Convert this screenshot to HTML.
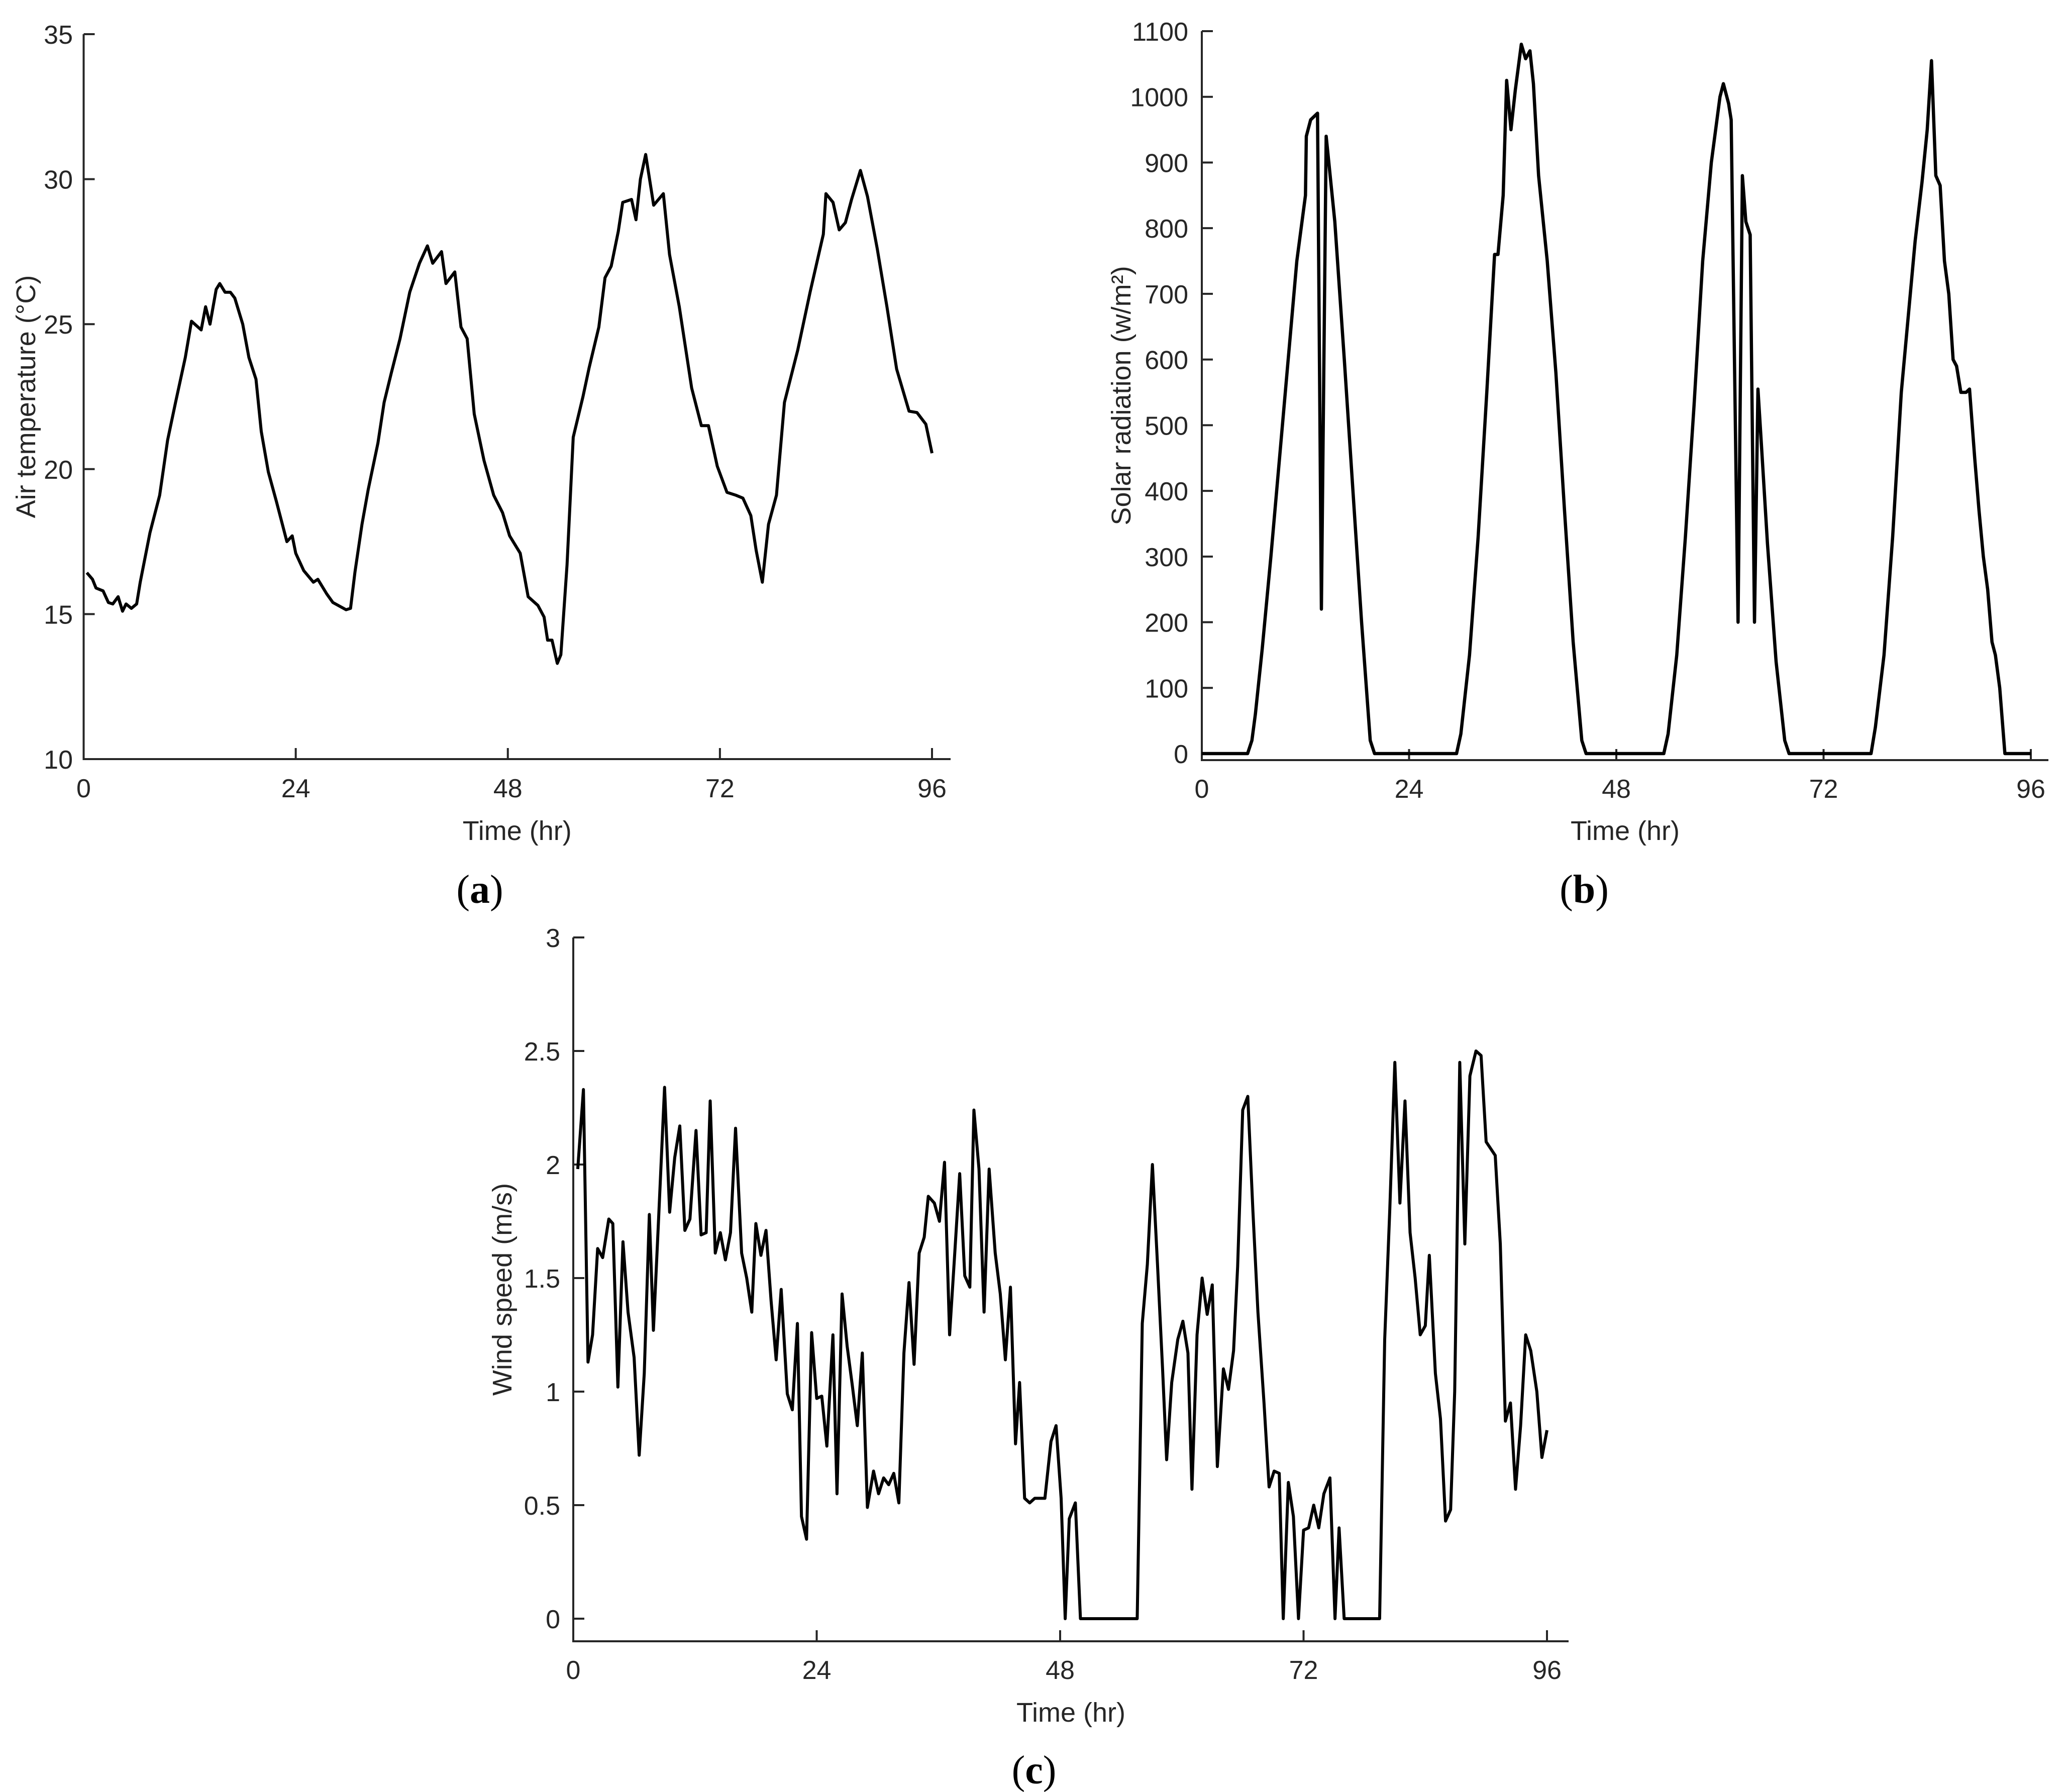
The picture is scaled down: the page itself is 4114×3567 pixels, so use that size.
<!DOCTYPE html>
<html><head><meta charset="utf-8"><style>
html,body{margin:0;padding:0;background:#fff;}
svg{display:block;font-family:"Liberation Sans",Arial,sans-serif;}
</style></head>
<body>
<svg id="fig" width="4114" height="3567" viewBox="0 0 4114 3567" xmlns="http://www.w3.org/2000/svg">
<rect width="4114" height="3567" fill="#fff"/>
<text x="955" y="1797" font-family="Liberation Serif,serif" font-size="80" text-anchor="middle">(<tspan font-weight="bold">a</tspan>)</text>
<text x="3153" y="1797" font-family="Liberation Serif,serif" font-size="80" text-anchor="middle">(<tspan font-weight="bold">b</tspan>)</text>
<text x="2058" y="3550" font-family="Liberation Serif,serif" font-size="80" text-anchor="middle">(<tspan font-weight="bold">c</tspan>)</text>
</svg>
<script>
// shared x ticks
const xTicks = [0, 24, 48, 72, 96];
// (a) air temperature
const tempTime = [0.36,1.0,1.4,2.2,2.8,3.3,3.9,4.4,4.8,5.4,6.0,6.4,7.5,8.6,9.5,10.4,11.5,12.2,13.3,13.8,14.3,15.0,15.4,16.0,16.6,17.1,18.0,18.7,19.5,20.1,20.9,21.8,23.0,23.6,24.0,24.9,26.0,26.5,27.5,28.2,29.7,30.2,30.7,31.5,32.2,33.3,34.0,34.8,35.8,36.9,38.0,38.9,39.5,40.5,41.0,42.0,42.7,43.4,44.2,45.3,46.4,47.4,48.2,49.4,50.3,51.4,52.1,52.5,53.0,53.6,54.0,54.7,55.4,56.5,57.2,58.3,59.0,59.7,60.5,61.0,62.0,62.5,63.0,63.6,64.5,65.6,66.3,67.4,68.8,69.9,70.7,71.7,72.8,73.8,74.6,75.5,76.1,76.8,77.5,78.4,79.3,80.8,82.2,83.7,84.0,84.8,85.5,86.2,86.9,87.9,88.7,89.8,90.9,92.0,93.4,94.3,95.3,96.0];
const tempValue = [16.43,16.2,15.9,15.8,15.4,15.35,15.6,15.1,15.35,15.2,15.35,16.1,17.8,19.1,21.0,22.3,23.85,25.1,24.8,25.6,25.0,26.2,26.4,26.1,26.1,25.9,25.0,23.85,23.1,21.3,19.9,18.9,17.5,17.7,17.1,16.5,16.1,16.2,15.7,15.4,15.15,15.2,16.45,18.1,19.3,20.9,22.3,23.3,24.5,26.1,27.1,27.7,27.1,27.5,26.4,26.8,24.9,24.5,21.9,20.3,19.1,18.5,17.7,17.1,15.6,15.3,14.9,14.1,14.1,13.3,13.6,16.7,21.1,22.5,23.5,24.9,26.6,27.0,28.2,29.2,29.3,28.6,30.0,30.85,29.1,29.5,27.4,25.6,22.8,21.5,21.5,20.1,19.2,19.1,19.0,18.4,17.2,16.1,18.1,19.1,22.3,24.1,26.1,28.1,29.5,29.2,28.25,28.5,29.3,30.3,29.4,27.6,25.6,23.45,22.0,21.95,21.55,20.55];
const tempTicks = [10,15,20,25,30,35];
// (b) solar radiation
const solarTime = [0,5.3,5.8,6.2,7,8,9,10,11,12,12.1,12.6,13.4,13.85,14.4,15.4,16.5,17.5,18.5,19.5,20,29.5,30,31,32,33,33.9,34.3,34.9,35.3,35.8,36.3,37.0,37.5,38.0,38.4,39.0,40,41,42,43,44,44.5,53.5,54,55,56,57,58,59,60,60.4,61,61.3,62.1,62.6,63.0,63.5,64.0,64.4,64.8,65.5,66.5,67.5,68,77.5,78,79,80,81,82.6,83.4,84.0,84.5,85.0,85.5,86,86.5,87,87.4,87.9,88.5,88.9,89.5,90,90.5,91,91.5,91.9,92.4,93,96];
const solarValue = [0,0,20,60,160,300,450,600,750,850,940,965,975,220,940,810,600,400,200,20,0,0,30,150,330,550,760,760,850,1025,950,1010,1080,1058,1070,1020,880,750,580,370,170,20,0,0,30,150,330,530,750,900,1000,1020,990,965,200,880,810,790,200,555,470,320,140,20,0,0,40,150,330,550,780,870,950,1055,880,865,750,700,600,590,550,550,555,450,370,300,250,170,150,100,0,0];
const solarTicks = [0,100,200,300,400,500,600,700,800,900,1000,1100];
// (c) wind speed
const windTime = [0.44,1.0,1.45,1.9,2.4,2.9,3.5,3.9,4.4,4.9,5.4,6.0,6.5,7.0,7.5,7.9,8.4,9.0,9.5,10.0,10.5,11.0,11.5,12.1,12.6,13.1,13.5,14.0,14.5,15.0,15.5,16.0,16.6,17.1,17.6,18.0,18.5,19.0,19.5,20.0,20.5,21.1,21.6,22.1,22.5,23.0,23.5,24.0,24.5,25.0,25.6,26.0,26.5,27.0,27.5,28.0,28.5,29.0,29.6,30.1,30.6,31.1,31.6,32.1,32.6,33.1,33.6,34.1,34.6,35.0,35.6,36.1,36.6,37.1,37.6,38.1,38.6,39.1,39.5,40.0,40.5,41.0,41.6,42.1,42.6,43.1,43.6,44.0,44.5,45.0,45.5,46.0,46.5,47.1,47.6,48.1,48.5,48.9,49.5,50.0,55.6,56.1,56.6,57.1,57.6,58.1,58.5,59.0,59.6,60.1,60.6,61.0,61.5,62.0,62.5,63.0,63.5,64.1,64.6,65.1,65.5,66.0,66.5,67.0,67.5,68.1,68.6,69.1,69.6,70.0,70.5,71.0,71.5,72.0,72.5,73.0,73.5,74.0,74.6,75.1,75.5,76.0,79.5,80.0,80.5,81.0,81.5,82.0,82.5,83.0,83.5,84.0,84.4,85.0,85.5,86.0,86.5,86.9,87.4,87.9,88.4,89.0,89.5,90.0,90.9,91.4,91.9,92.4,92.9,93.4,93.9,94.4,95.0,95.5,96.0];
const windValue = [1.98,2.33,1.13,1.25,1.63,1.59,1.76,1.74,1.02,1.66,1.35,1.15,0.72,1.08,1.78,1.27,1.75,2.34,1.79,2.03,2.17,1.71,1.76,2.15,1.69,1.70,2.28,1.61,1.70,1.58,1.70,2.16,1.61,1.50,1.35,1.74,1.60,1.71,1.40,1.14,1.45,0.99,0.92,1.30,0.45,0.35,1.26,0.97,0.98,0.76,1.25,0.55,1.43,1.20,1.03,0.85,1.17,0.49,0.65,0.55,0.62,0.59,0.64,0.51,1.17,1.48,1.12,1.61,1.68,1.86,1.83,1.75,2.01,1.25,1.60,1.96,1.51,1.46,2.24,1.98,1.35,1.98,1.61,1.43,1.14,1.46,0.77,1.04,0.53,0.51,0.53,0.53,0.53,0.78,0.85,0.53,0,0.44,0.51,0,0,1.30,1.56,2.0,1.56,1.10,0.70,1.04,1.23,1.31,1.17,0.57,1.25,1.50,1.34,1.47,0.67,1.10,1.01,1.18,1.55,2.24,2.30,1.80,1.35,0.95,0.58,0.65,0.64,0,0.60,0.45,0,0.39,0.40,0.50,0.40,0.55,0.62,0,0.40,0,0,1.23,1.80,2.45,1.83,2.28,1.70,1.50,1.25,1.29,1.60,1.08,0.88,0.43,0.48,1.00,2.45,1.65,2.39,2.50,2.48,2.10,2.04,1.65,0.87,0.95,0.57,0.85,1.25,1.18,1.0,0.71,0.83];
const windTicks = [0,0.5,1,1.5,2,2.5,3];
const windTickLabels = ["0","0.5","1","1.5","2","2.5","3"];

const NS = "http://www.w3.org/2000/svg";
const svg = document.getElementById("fig");
function mk(tag, attrs, parent){
  const e = document.createElementNS(NS, tag);
  for (const k in attrs) e.setAttribute(k, attrs[k]);
  (parent||svg).appendChild(e);
  return e;
}
function panel(p){
  const g = mk("g", {});
  
  
  const sx = v => p.x0 + (v - 0) / 96 * (p.x96 - p.x0);
  const sy = v => p.yBase + (v - p.ymin) / (p.ymax - p.ymin) * (p.yTop - p.yBase);
  const ax = "#262626";
  const yaxis = mk("line", {x1:p.x0, y1:p.axisBottom, x2:p.x0, y2:p.yTop, stroke:ax, "stroke-width":4}, g);
  
  
  const xaxis = mk("line", {x1:p.x0-2, y1:p.axisBottom, x2:p.xEnd, y2:p.axisBottom, stroke:ax, "stroke-width":4}, g);
  
  
  p.yTicks.forEach((t, i) => {
    const y = sy(t);
    mk("line", {x1:p.x0, y1:y, x2:p.x0+22, y2:y, stroke:ax, "stroke-width":4}, g);
    const tx = mk("text", {x:p.yLabRight, y:y+19, "font-size":52, "text-anchor":"end", fill:"#262626"}, g);
    tx.textContent = p.yLabels ? p.yLabels[i] : String(t);
    
    
  });
  xTicks.forEach(t => {
    const x = sx(t);
    mk("line", {x1:x, y1:p.axisBottom, x2:x, y2:p.axisBottom-22, stroke:ax, "stroke-width":4}, g);
    const tx = mk("text", {x:x, y:p.xLabBase, "font-size":52, "text-anchor":"middle", fill:"#262626"}, g);
    tx.textContent = String(t);
    
    
  });
  const xt = mk("text", {x:(p.x0+p.xEnd)/2, y:p.xTitleBase, "font-size":54, "text-anchor":"middle", fill:"#262626"}, g);
  xt.textContent = "Time (hr)";
  
  
  const cy = (p.yTop + p.axisBottom)/2;
  const yt = mk("text", {x:p.yTitleX, y:cy, "font-size":54, "text-anchor":"middle", fill:"#262626", transform:`rotate(-90 ${p.yTitleX} ${cy})`}, g);
  yt.textContent = p.yTitle;
  
  
  let d = "";
  p.xs.forEach((t, i) => { d += (i ? "L" : "M") + sx(t).toFixed(1) + " " + sy(p.ys[i]).toFixed(1); });
  const path = mk("path", {d:d, fill:"none", stroke:"#000", "stroke-width":p.lw, "stroke-linejoin":"round"}, g);
  
  
}
panel({name:"air-temperature-chart", x0:166.5, x96:1855, xEnd:1892, yTop:68, yBase:1511, axisBottom:1511, ymin:10, ymax:35,
  yTicks:tempTicks, yLabRight:145, xLabBase:1587, xTitleBase:1672, yTitleX:70, yTitle:"Air temperature (°C)",
  xs:tempTime, ys:tempValue, lw:6, seriesName:"temperature-line"});
panel({name:"solar-radiation-chart", x0:2392, x96:4042, xEnd:4077, yTop:62, yBase:1500, axisBottom:1513, ymin:0, ymax:1100,
  yTicks:solarTicks, yLabRight:2365, xLabBase:1588, xTitleBase:1672, yTitleX:2250, yTitle:"Solar radiation (w/m²)",
  xs:solarTime, ys:solarValue, lw:6.5, seriesName:"solar-line"});
panel({name:"wind-speed-chart", x0:1141, x96:3079, xEnd:3122, yTop:1866, yBase:3222, axisBottom:3267, ymin:0, ymax:3,
  yTicks:windTicks, yLabels:windTickLabels, yLabRight:1115, xLabBase:3342, xTitleBase:3427, yTitleX:1018, yTitle:"Wind speed (m/s)",
  xs:windTime, ys:windValue, lw:6, seriesName:"wind-line"});
</script>
</body></html>
